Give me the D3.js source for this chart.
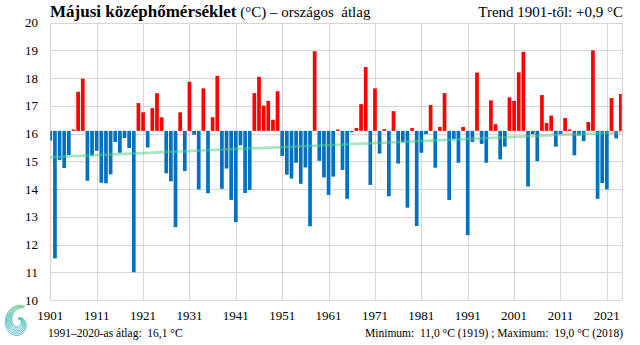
<!DOCTYPE html>
<html><head><meta charset="utf-8">
<script src="https://cdn.jsdelivr.net/npm/d3@7"></script>
<style>
html,body{margin:0;padding:0;background:#fff;}
svg{display:block;font-family:"Liberation Serif","Times New Roman",serif;}
</style></head>
<body>
<svg id="chart" width="640" height="345"></svg>
<script>
// ---- data ----
const startYear = 1901;
const values = [
15.75,11.5,15.05,14.76,15.23,16.15,17.51,17.98,14.30,15.20,
15.38,14.23,14.21,14.53,15.70,15.31,15.84,15.48,11.0,17.10,
16.77,15.50,16.92,17.46,16.59,14.57,14.28,12.63,16.77,14.65,
17.87,15.96,13.99,17.63,13.85,16.59,18.08,14.01,14.74,13.61,
12.81,15.58,13.86,13.97,17.46,18.05,17.01,17.18,16.50,17.53,
15.19,14.52,14.38,14.95,14.19,14.78,12.66,18.97,15.02,14.42,
13.79,14.45,16.15,14.69,13.65,16.05,16.20,17.06,18.40,14.15,
17.63,15.28,16.16,13.74,16.81,14.92,15.69,13.33,16.20,12.67,
15.31,15.98,17.03,14.77,16.24,17.46,13.61,15.80,14.95,16.24,
12.34,15.70,18.20,15.63,14.95,17.20,16.34,15.07,15.53,17.31,
17.18,18.21,18.95,14.09,15.98,15.01,17.39,16.38,16.65,15.53,
15.98,16.56,16.15,15.22,15.93,15.73,16.42,19.0,13.65,14.22,
13.99,17.28,15.83,17.43
];
const years = values.map((v,i)=>startYear+i);
const baseline = 16.1;          // 1991–2020 mean
const trendStart = 15.15, trendEnd = 16.05;  // linear trend endpoints
const xTickYears = [1901,1911,1921,1931,1941,1951,1961,1971,1981,1991,2001,2011,2021];
const yTicks = [10,11,12,13,14,15,16,17,18,19,20];

// ---- layout ----
const L=50.3, R=621.7, T=22.7, B=300;
const svg = d3.select("#chart");
const x = d3.scaleLinear().domain([1901, 2024.2]).range([L, R]);
const y = d3.scaleLinear().domain([10, 20]).range([B, T]);
const bw = 3.7;

svg.append("clipPath").attr("id","clip").append("rect")
  .attr("x",L).attr("y",T).attr("width",R-L).attr("height",B-T);

// grid
const grid = svg.append("g").attr("stroke","#d6d6d6").attr("stroke-width",1).attr("shape-rendering","crispEdges");
grid.selectAll("line.h").data(yTicks).join("line")
  .attr("x1",L).attr("x2",R).attr("y1",d=>Math.round(y(d))+0.5).attr("y2",d=>Math.round(y(d))+0.5);
grid.selectAll("line.v").data(xTickYears).join("line")
  .attr("y1",T).attr("y2",B).attr("x1",d=>Math.round(x(d))+0.5).attr("x2",d=>Math.round(x(d))+0.5);
grid.append("line").attr("x1",Math.round(R)+0.5).attr("x2",Math.round(R)+0.5).attr("y1",T).attr("y2",B);

// bars
const gb = svg.append("g").attr("clip-path","url(#clip)");
gb.selectAll("rect").data(years).join("rect")
  .attr("x",(d)=>x(d)-bw/2)
  .attr("width",bw)
  .attr("y",(d,i)=>y(Math.max(values[i],baseline)))
  .attr("height",(d,i)=>Math.abs(y(values[i])-y(baseline)))
  .attr("fill",(d,i)=>values[i]>=baseline?"#ff0000":"#0070c0");

// trend
svg.append("line")
  .attr("x1",x(1901)).attr("y1",y(trendStart))
  .attr("x2",R).attr("y2",y(trendEnd))
  .attr("stroke","#4ccf7f").attr("stroke-opacity",0.5).attr("stroke-width",2.7);

// y labels
svg.append("g").selectAll("text").data(yTicks).join("text")
  .attr("x",38).attr("y",d=>y(d)).attr("dy","0.35em")
  .attr("text-anchor","end").attr("font-size",13).attr("fill","#000")
  .text(d=>d);

// x labels
svg.append("g").selectAll("text").data(xTickYears).join("text")
  .attr("x",d=>x(d)).attr("y",320)
  .attr("text-anchor","middle").attr("font-size",13).attr("fill","#000")
  .text(d=>d);

// title
const t = svg.append("text").attr("x",50).attr("y",17).attr("fill","#000");
t.append("tspan").attr("font-weight","bold").attr("font-size",17).text("Májusi középhőmérséklet");
t.append("tspan").attr("font-size",15).attr("xml:space","preserve").text(" (°C) – országos  átlag");
svg.append("text").attr("x",623).attr("y",17).attr("text-anchor","end").attr("font-size",15)
  .text("Trend 1901-től: +0,9 °C");

// bottom notes
svg.append("text").attr("x",48).attr("y",337).attr("font-size",11.5).style("white-space","pre")
  .text("1991–2020-as átlag:  16,1 °C");
svg.append("text").attr("x",623).attr("y",337).attr("text-anchor","end").attr("font-size",11.5).style("white-space","pre")
  .text("Minimum:  11,0 °C (1919) ; Maximum:  19,0 °C (2018)");

// logo (spiral)
const defs = svg.append("defs");
const lg = defs.append("linearGradient").attr("id","lg").attr("gradientUnits","userSpaceOnUse")
  .attr("x1",30).attr("y1",303).attr("x2",8).attr("y2",343);
lg.append("stop").attr("offset","0").attr("stop-color","#a5dc8c");
lg.append("stop").attr("offset","0.45").attr("stop-color","#3cbcae");
lg.append("stop").attr("offset","1").attr("stop-color","#2b9bd8");
const cx=18.5, cy=323.5;
const logo = svg.append("g").attr("fill","none").attr("stroke","url(#lg)").attr("stroke-width",0.85);
for(let k=0;k<7;k++){
  const pts=[];
  for(let a=0;a<=1;a+=0.01){
    const ang = -Math.PI*0.38 - a*Math.PI*2.15;
    const w = 1.25*(0.25 + Math.sin(Math.PI*Math.min(1,a*1.1)));
    const r = 16.5*(1-0.72*a) - k*w*0.9;
    if (r<=0.5) continue;
    pts.push([cx + r*Math.cos(ang), cy + 1.15*r*Math.sin(ang)]);
  }
  logo.append("path").attr("d",d3.line().curve(d3.curveBasis)(pts));
}
</script>
</body></html>
